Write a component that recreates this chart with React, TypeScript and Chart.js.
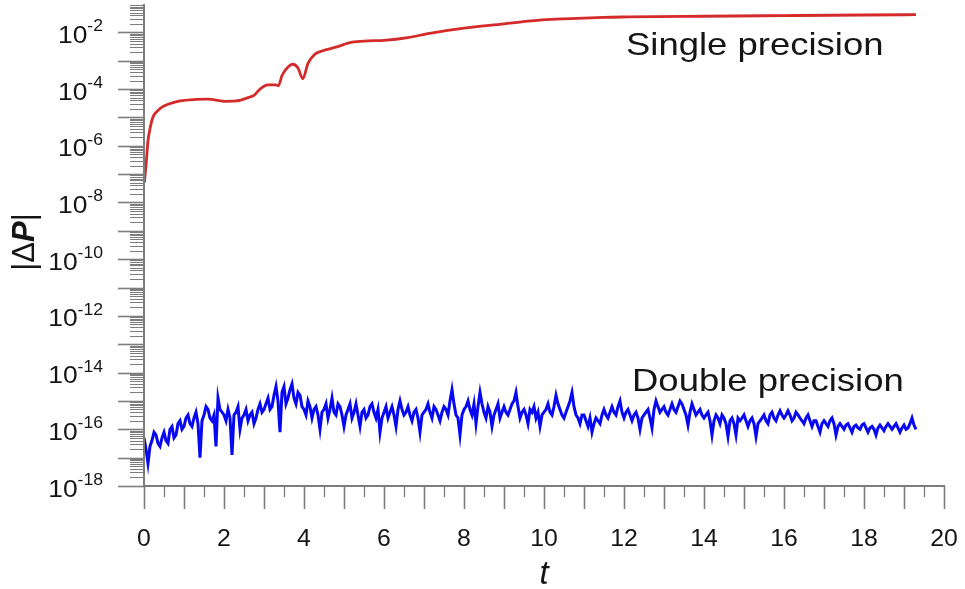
import { useEffect, useRef } from "react";
import { Chart, registerables } from "chart.js";

Chart.register(...registerables);

// ---------------- data ----------------
// Single precision |ΔP| : time points and values
const singleT = [
  0.01, 0.06, 0.1, 0.15, 0.22, 0.32, 0.45, 0.6, 0.9, 1.3, 1.6, 2.0, 2.3, 2.6, 2.75, 2.9,
  3.1, 3.3, 3.36, 3.45, 3.6, 3.72, 3.85, 3.97, 4.1, 4.25, 4.45, 4.8, 5.2, 5.6, 6.0, 6.6,
  7.1, 8.0, 9.0, 9.6, 10.5, 11.5, 12.1, 14, 16, 18, 19.3,
];
const singleDP = [
  5e-8, 3e-7, 1.5e-6, 4e-6, 1e-5, 1.6e-5, 2.3e-5, 2.9e-5, 3.8e-5, 4.3e-5, 4.4e-5, 3.7e-5,
  3.8e-5, 5e-5, 6e-5, 1e-4, 1.4e-4, 1.4e-4, 1.3e-4, 3e-4, 6e-4, 7.5e-4, 5.5e-4, 2.3e-4,
  8e-4, 1.6e-3, 2.2e-3, 3e-3, 4.5e-3, 5e-3, 5.2e-3, 6.5e-3, 9e-3, 1.4e-2, 2e-2, 2.5e-2,
  3e-2, 3.4e-2, 3.5e-2, 3.7e-2, 3.9e-2, 4.1e-2, 4.2e-2,
];

// Double precision |ΔP| : sampled every 0.05 from t = 0 to 19.3
const doubleStartT = 0;
const doubleStepT = 0.05;
const doubleDP = [
  // t 0 - 0.95
  5e-17, 2e-17, 6.3e-18, 2.5e-17, 4e-17, 7.9e-17, 6.3e-17, 3.2e-17, 2.5e-17, 5e-17,
  7.9e-17, 4e-17, 3.2e-17, 1e-16, 1.26e-16, 5e-17, 6.3e-17, 1.58e-16, 2e-16, 1e-16,
  // t 1
  1.26e-16, 2.5e-16, 3.2e-16, 1.58e-16, 1.26e-16, 2.5e-16, 4e-16, 1.58e-16, 1e-17, 2e-16,
  3.2e-16, 6.3e-16, 5e-16, 2.5e-16, 2e-16, 3.2e-16, 2.5e-17, 1.26e-15, 5e-16, 4e-16,
  // t 2
  3.2e-16, 2e-16, 5e-16, 2.5e-16, 1.26e-17, 3.2e-16, 4e-16, 6.3e-16, 1e-16, 2.5e-16,
  3.2e-16, 5e-16, 2e-16, 3.2e-16, 4e-16, 1.58e-16, 2.5e-16, 5e-16, 7.9e-16, 4e-16,
  // t 3
  5e-16, 7.9e-16, 1.26e-15, 5e-16, 6.3e-16, 1.58e-15, 3.2e-15, 1e-15, 7.9e-17, 2e-15,
  3.2e-15, 7.9e-16, 1.26e-15, 2.5e-15, 4e-15, 1.26e-15, 7.9e-16, 2e-15, 1.58e-15, 6.3e-16,
  // t 4
  5e-16, 3.2e-16, 1e-15, 6.3e-16, 2.5e-16, 5e-16, 6.3e-16, 3.2e-16, 1e-16, 4e-16,
  5e-16, 7.9e-16, 2.5e-16, 5e-16, 1.26e-15, 4e-16, 3.2e-16, 7.9e-16, 6.3e-16, 3.2e-16,
  // t 5
  1.26e-16, 3.2e-16, 5e-16, 7.9e-16, 2.5e-16, 4e-16, 7.9e-16, 3.2e-16, 1.26e-16, 4e-16,
  5e-16, 2.5e-16, 3.2e-16, 6.3e-16, 7.9e-16, 4e-16, 2.5e-16, 5e-16, 7.9e-17, 2.5e-16,
  // t 6
  4e-16, 6.3e-16, 2.5e-16, 4e-16, 6.3e-16, 3.2e-16, 1.26e-16, 5e-16, 1e-15, 5e-16,
  3.2e-16, 4e-16, 6.3e-16, 3.2e-16, 2e-16, 4e-16, 5e-16, 2.5e-16, 7.9e-17, 3.2e-16,
  // t 7
  4e-16, 5e-16, 7.9e-16, 4e-16, 2.5e-16, 6.3e-16, 5e-16, 3.2e-16, 2e-16, 4e-16,
  6.3e-16, 5e-16, 3.2e-16, 1e-15, 2.5e-15, 7.9e-16, 3.2e-16, 2.5e-16, 6.3e-17, 3.2e-16,
  // t 8
  5e-16, 6.3e-16, 1e-15, 5e-16, 3.2e-16, 7.9e-16, 1.58e-16, 6.3e-16, 2e-15, 7.9e-16,
  4e-16, 2.5e-16, 6.3e-16, 4e-16, 1.26e-16, 3.2e-16, 5e-16, 7.9e-16, 2.5e-16, 4e-16,
  // t 9
  6.3e-16, 4e-16, 3.2e-16, 5e-16, 7.9e-16, 1e-15, 2e-15, 6.3e-16, 2.5e-16, 4e-16,
  5e-16, 3.2e-16, 1.58e-16, 5e-16, 4e-16, 6.3e-16, 2.5e-16, 4e-16, 1.26e-16, 3.2e-16,
  // t 10
  4e-16, 5e-16, 7.9e-16, 4e-16, 3.2e-16, 6.3e-16, 1.58e-15, 7.9e-16, 5e-16, 3.2e-16,
  2.5e-16, 4e-16, 6.3e-16, 1e-15, 2e-15, 6.3e-16, 3.2e-16, 2.5e-16, 1.58e-16, 3.2e-16,
  // t 11
  3.2e-16, 2e-16, 1.26e-16, 2.5e-16, 7.9e-17, 1.58e-16, 2.5e-16, 2e-16, 1.58e-16, 3.2e-16,
  5e-16, 3.2e-16, 2.5e-16, 4e-16, 6.3e-16, 4e-16, 3.2e-16, 6.3e-16, 1e-15, 4e-16,
  // t 12
  2.5e-16, 4e-16, 5e-16, 3.2e-16, 2e-16, 3.2e-16, 4e-16, 2.5e-16, 1e-16, 2.5e-16,
  3.2e-16, 4e-16, 5e-16, 2.5e-16, 1.12e-16, 5e-16, 1e-15, 6.3e-16, 4e-16, 5e-16,
  // t 13
  6.3e-16, 4e-16, 3.2e-16, 5e-16, 7.9e-16, 5e-16, 4e-16, 6.3e-16, 1e-15, 7.9e-16,
  5e-16, 3.2e-16, 1.41e-16, 4e-16, 7.9e-16, 5e-16, 3.2e-16, 4e-16, 5e-16, 3.2e-16,
  // t 14
  2.5e-16, 3.2e-16, 4e-16, 2e-16, 6.3e-17, 2e-16, 3.2e-16, 2.5e-16, 1.58e-16, 3.2e-16,
  2.5e-16, 1.58e-16, 5.6e-17, 2e-16, 2.5e-16, 1.58e-16, 6.3e-17, 2.5e-16, 2e-16, 2.5e-16,
  // t 15
  3.2e-16, 2e-16, 1.26e-16, 2e-16, 2.5e-16, 1.58e-16, 5.6e-17, 1.58e-16, 2e-16, 2.5e-16,
  3.2e-16, 2e-16, 1.58e-16, 3.2e-16, 4e-16, 2.5e-16, 2e-16, 3.2e-16, 4.5e-16, 3.2e-16,
  // t 16
  2.5e-16, 3.2e-16, 4.5e-16, 3.2e-16, 2e-16, 2.5e-16, 4e-16, 3.2e-16, 2.5e-16, 2e-16,
  1.58e-16, 2.5e-16, 3.2e-16, 2e-16, 1.26e-16, 2e-16, 2e-16, 1.26e-16, 7.9e-17, 1.58e-16,
  // t 17
  2e-16, 1.58e-16, 1.26e-16, 2e-16, 2.5e-16, 1.58e-16, 6.3e-17, 1.26e-16, 1.58e-16, 1.26e-16,
  1e-16, 1.41e-16, 1.58e-16, 1.12e-16, 7.9e-17, 1.26e-16, 1.41e-16, 1.12e-16, 1e-16, 1.41e-16,
  // t 18
  1.58e-16, 1.12e-16, 7.9e-17, 1.12e-16, 1.26e-16, 1e-16, 6.3e-17, 1.12e-16, 1.41e-16, 1.12e-16,
  8.9e-17, 1.26e-16, 1.58e-16, 1.26e-16, 1e-16, 1.26e-16, 1.58e-16, 1.12e-16, 7.9e-17, 1.12e-16,
  // t 19 - 19.3
  1.41e-16, 1e-16, 1.12e-16, 1.58e-16, 2.5e-16, 1.41e-16, 1e-16,
];

const xTickLabels = [0, 2, 4, 6, 8, 10, 12, 14, 16, 18, 20];
const yTickExponents = [-18, -16, -14, -12, -10, -8, -6, -4, -2];
const yDecadeExponents = [-18, -17, -16, -15, -14, -13, -12, -11, -10, -9, -8, -7, -6, -5, -4, -3, -2];

const X_MIN = 0;
const X_MAX = 20;
const Y_MIN = 1e-18;
const Y_MAX = 1e-1;

const FONT = '"Liberation Sans", Arial, Helvetica, sans-serif';
const AXIS_COLOR = "#7d7d7d";
const TEXT_COLOR = "#151515";

const paperAxes = {
  id: "paperAxes",
  afterDraw(chart: any) {
    const ctx: CanvasRenderingContext2D = chart.ctx;
    const xs = chart.scales.x;
    const ys = chart.scales.y;
    const x0 = Math.round(xs.getPixelForValue(X_MIN));
    const x1 = Math.round(xs.getPixelForValue(X_MAX));
    const y0 = Math.round(ys.getPixelForValue(Y_MIN));
    const y1 = Math.round(ys.getPixelForValue(Y_MAX));

    ctx.save();
    const seg = (ax: number, ay: number, bx: number, by: number) => {
      ctx.beginPath();
      ctx.moveTo(ax, ay);
      ctx.lineTo(bx, by);
      ctx.stroke();
    };
    // stretched text, left-aligned at x
    const stext = (txt: string, font: string, x: number, y: number, sx: number) => {
      ctx.save();
      ctx.font = font;
      ctx.translate(x, y);
      ctx.scale(sx, 1);
      ctx.textAlign = "left";
      ctx.fillText(txt, 0, 0);
      ctx.restore();
    };
    const swidth = (txt: string, font: string, sx: number) => {
      ctx.font = font;
      return ctx.measureText(txt).width * sx;
    };

    // y ticks (major decades + minor 2..9)
    ctx.strokeStyle = AXIS_COLOR;
    for (const e of yDecadeExponents) {
      const dec = Math.pow(10, e);
      const yp = Math.round(ys.getPixelForValue(dec)) + 0.5;
      ctx.lineWidth = 1.6;
      seg(x0 - 26, yp, x0, yp);
      ctx.lineWidth = 1;
      for (let m = 2; m <= 9; m++) {
        const ym = Math.round(ys.getPixelForValue(m * dec)) + 0.5;
        seg(x0 - 14, ym, x0, ym);
      }
    }

    // x ticks (major each 1, minor each 0.5)
    for (let i = 0; i <= (X_MAX - X_MIN) * 2; i++) {
      const v = X_MIN + i * 0.5;
      const xp = Math.round(xs.getPixelForValue(v)) + 0.5;
      const major = i % 2 === 0;
      ctx.lineWidth = major ? 1.6 : 1.3;
      seg(xp, y0, xp, y0 + (major ? 23 : 11));
    }

    // axis lines
    ctx.lineWidth = 2;
    ctx.strokeStyle = AXIS_COLOR;
    seg(x0, y1, x0, y0 + 1);
    seg(x0 - 1, y0, x1 + 1, y0);

    ctx.fillStyle = TEXT_COLOR;
    ctx.textBaseline = "alphabetic";

    // x tick labels
    const xFont = `23px ${FONT}`;
    for (const v of xTickLabels) {
      const s = String(v);
      const w = swidth(s, xFont, 1.08);
      stext(s, xFont, xs.getPixelForValue(v) - w / 2, y0 + 60, 1.08);
    }

    // y tick labels 10^e
    const labelRight = x0 - 41;
    const baseFont = `24px ${FONT}`;
    const expFont = `16px ${FONT}`;
    for (const e of yTickExponents) {
      const yp = ys.getPixelForValue(Math.pow(10, e));
      const expStr = String(e);
      const ew = swidth(expStr, expFont, 1.1);
      const bw = swidth("10", baseFont, 1.1);
      stext(expStr, expFont, labelRight - ew, yp - 1, 1.1);
      stext("10", baseFont, labelRight - ew - bw, yp + 10.5, 1.1);
    }

    // x axis title
    ctx.font = `italic 33px ${FONT}`;
    ctx.textAlign = "center";
    ctx.fillText("t", xs.getPixelForValue(10), y0 + 98);

    // y axis title |ΔP|
    ctx.save();
    ctx.translate(34, (y0 + y1) / 2 - 3);
    ctx.rotate(-Math.PI / 2);
    const parts: [string, string][] = [
      ["|Δ", `31px ${FONT}`],
      ["P", `italic bold 31px ${FONT}`],
      ["|", `31px ${FONT}`],
    ];
    let total = 0;
    for (const [s, f] of parts) {
      ctx.font = f;
      total += ctx.measureText(s).width;
    }
    let cx = -total / 2;
    ctx.textAlign = "left";
    for (const [s, f] of parts) {
      ctx.font = f;
      ctx.fillText(s, cx, 0);
      cx += ctx.measureText(s).width;
    }
    ctx.restore();

    // curve annotations
    const noteFont = `32px ${FONT}`;
    stext("Single precision", noteFont, 626, 55, 1.14);
    stext("Double precision", noteFont, 632, 391, 1.14);

    ctx.restore();
  },
};

export default function App() {
  const ref = useRef<HTMLCanvasElement | null>(null);

  useEffect(() => {
    document.body.style.margin = "0";
    const canvas = ref.current;
    if (!canvas) return;
    const singlePts = singleT.map((t, i) => ({ x: t, y: singleDP[i] }));
    const doublePts = doubleDP.map((v, i) => ({
      x: +(doubleStartT + i * doubleStepT).toFixed(3),
      y: v,
    }));
    const chart = new Chart(canvas, {
      type: "line",
      data: {
        datasets: [
          {
            label: "Single precision",
            data: singlePts,
            borderColor: "#d42a2a",
            borderWidth: 2.8,
            pointRadius: 0,
            cubicInterpolationMode: "monotone",
            fill: false,
          },
          {
            label: "Double precision",
            data: doublePts,
            borderColor: "#0808f0",
            borderWidth: 3,
            pointRadius: 0,
            tension: 0,
            borderJoinStyle: "miter",
            fill: false,
          },
        ],
      },
      options: {
        responsive: false,
        animation: false,
        devicePixelRatio: 1,
        layout: { padding: { left: 144, right: 21, top: 4, bottom: 103 } },
        scales: {
          x: { type: "linear", min: X_MIN, max: X_MAX, display: false },
          y: { type: "logarithmic", min: Y_MIN, max: Y_MAX, display: false },
        },
        plugins: {
          legend: { display: false },
          tooltip: { enabled: false },
        },
      } as any,
      plugins: [paperAxes],
    });
    return () => chart.destroy();
  }, []);

  return (
    <div style={{ position: "absolute", left: 0, top: 0, width: 965, height: 589, background: "#fff" }}>
      <canvas ref={ref} width={965} height={589} />
    </div>
  );
}
